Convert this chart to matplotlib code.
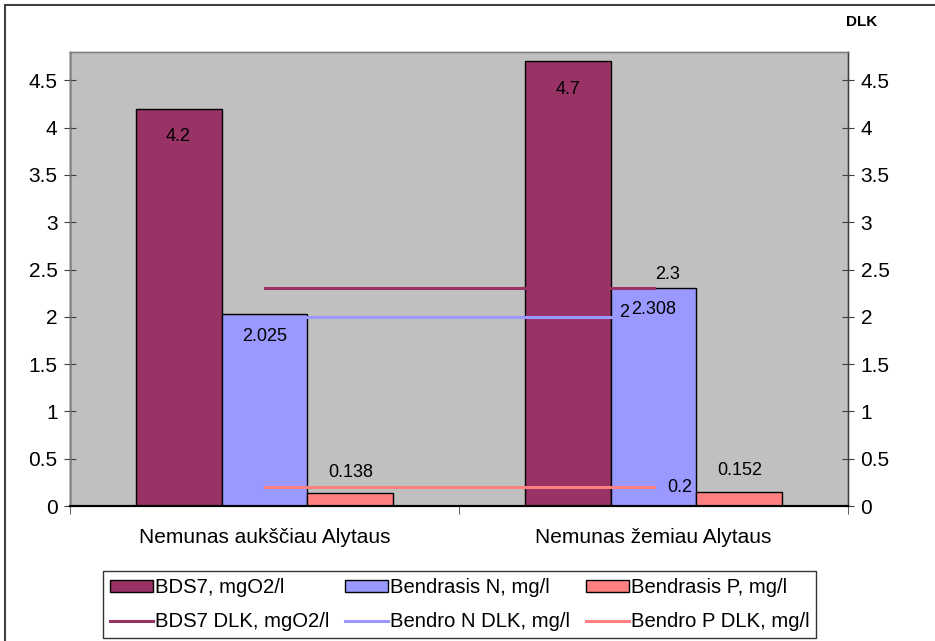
import matplotlib.pyplot as plt
from matplotlib.patches import Rectangle

plt.rcParams['font.family'] = ['Liberation Sans', 'DejaVu Sans']
plt.rcParams['font.size'] = 14

# data
categories = ["Nemunas aukščiau Alytaus", "Nemunas žemiau Alytaus"]
bds7 = [4.2, 4.7]
bendras_n = [2.025, 2.308]
bendras_p = [0.138, 0.152]
bds7_dlk = [2.3, 2.3]
n_dlk = [2.0, 2.0]
p_dlk = [0.2, 0.2]

bar_labels = ["BDS7, mgO2/l", "Bendrasis N, mg/l", "Bendrasis P, mg/l"]
line_labels = ["BDS7 DLK, mgO2/l", "Bendro N DLK, mg/l", "Bendro P DLK, mg/l"]
colors = ["#993366", "#9999FF", "#FF8080"]

fig = plt.figure(figsize=(9.35, 6.41), dpi=100)
ax = fig.add_axes([70/935, 1-506/641, 778/935, 454/641])
ax.set_facecolor("#C0C0C0")

x = range(len(categories))
w = 0.221
series = [bds7, bendras_n, bendras_p]
bar_handles = []
for i, (vals, c, lab) in enumerate(zip(series, colors, bar_labels)):
    xs = [xi + (i - 1) * w for xi in x]
    b = ax.bar(xs, vals, width=w, color=c, edgecolor="black", linewidth=1,
               label=lab, zorder=2)
    bar_handles.append(b)

# bar value labels
lab_fs = 13
for xi, v in zip(x, bds7):
    ax.annotate(str(v), (xi - w, v), xytext=(0, -20), textcoords="offset points",
                ha="center", va="center", fontsize=lab_fs, zorder=5)
for xi, v in zip(x, bendras_n):
    ax.annotate(str(v), (xi, v), xytext=(0, -16), textcoords="offset points",
                ha="center", va="center", fontsize=lab_fs, zorder=5)
for xi, v in zip(x, bendras_p):
    ax.annotate(str(v), (xi + w, v), xytext=(0, 15), textcoords="offset points",
                ha="center", va="center", fontsize=lab_fs, zorder=5)

# DLK lines
line_handles = []
for vals, c, lab in zip([bds7_dlk, n_dlk, p_dlk], colors, line_labels):
    ln, = ax.plot(list(x), vals, color=c, linewidth=2.2, label=lab, zorder=4)
    line_handles.append(ln)

ax.annotate(str(bds7_dlk[1]), (1, bds7_dlk[1]), xytext=(10, 10),
            textcoords="offset points", ha="center", va="center", fontsize=lab_fs, zorder=5)
ax.annotate(f"{n_dlk[1]:g}", (1, n_dlk[1]), xytext=(-21, 3),
            textcoords="offset points", ha="center", va="center", fontsize=lab_fs, zorder=5)
ax.annotate(f"{p_dlk[1]:g}", (1, p_dlk[1]), xytext=(19, 0),
            textcoords="offset points", ha="center", va="center", fontsize=lab_fs, zorder=5)

ax.set_xlim(-0.5, 1.5)
ax.set_ylim(0, 4.8)
yt = [0, 0.5, 1, 1.5, 2, 2.5, 3, 3.5, 4, 4.5]
ax.set_yticks(yt)
ax.set_yticklabels([f"{t:g}" for t in yt], fontsize=15)
ax.set_xticks(list(x))
ax.set_xticklabels(categories, fontsize=15)
ax.set_xticks([-0.5, 0.5, 1.5], minor=True)
ax.tick_params(axis="x", which="major", length=0, pad=16)
ax.tick_params(axis="x", which="minor", length=6, direction="out", color="#404040")
ax.tick_params(axis="y", direction="inout", length=8, color="#404040", pad=5)

ax2 = ax.twinx()
ax2.set_ylim(0, 4.8)
ax2.set_yticks(yt)
ax2.set_yticklabels([f"{t:g}" for t in yt], fontsize=15)
ax2.tick_params(axis="y", direction="inout", length=8, color="#404040", pad=5)

for a in (ax, ax2):
    for s in ["left", "right", "top"]:
        a.spines[s].set_color("#808080")
        a.spines[s].set_linewidth(1)
    a.spines["bottom"].set_color("black")
    a.spines["bottom"].set_linewidth(1.5)
ax.spines["left"].set_color("black")
ax2.spines["right"].set_color("#404040")

fig.text(862/935, 1-22/641, "DLK", fontsize=11, fontweight="bold", ha="center", va="center")

handles = []
labels = []
for b, ln, bl, ll in zip(bar_handles, line_handles, bar_labels, line_labels):
    handles += [b, ln]
    labels += [bl, ll]
leg = fig.legend(handles, labels, ncol=3, loc="upper left",
                 bbox_to_anchor=(103/935, 1-571/641),
                 frameon=True, fancybox=False, edgecolor="black", fontsize=14.6,
                 handlelength=2.1, handleheight=0.6, handletextpad=0.1,
                 columnspacing=0.8, borderaxespad=0, labelspacing=0.75,
                 borderpad=0.35)
leg.get_frame().set_linewidth(1)

fig.patches.append(Rectangle((5/935, -0.1), 1.2, 1.1 - 5/641, transform=fig.transFigure,
                             fill=False, edgecolor="#404040", linewidth=1.5))

fig.savefig("out.png", dpi=100)
